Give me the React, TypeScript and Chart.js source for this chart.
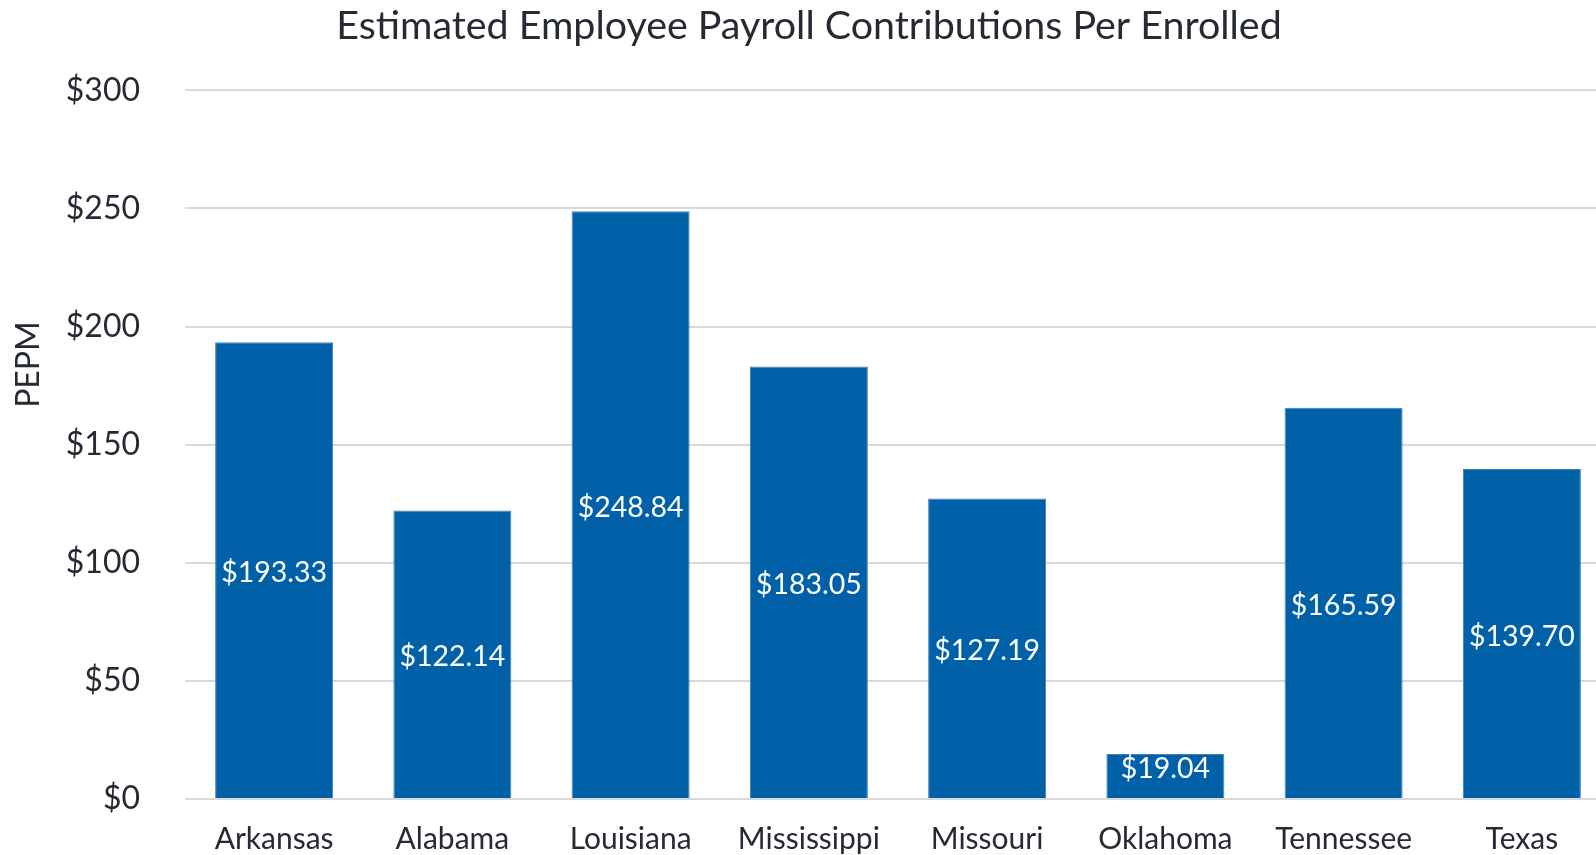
import React, { useEffect, useRef } from "react";
import { Chart, registerables } from "chart.js";

Chart.register(...registerables);

const categories = ["Arkansas", "Alabama", "Louisiana", "Mississippi", "Missouri", "Oklahoma", "Tennessee", "Texas"];
const values = [193.33, 122.14, 248.84, 183.05, 127.19, 19.04, 165.59, 139.7];
const yTicks = [0, 50, 100, 150, 200, 250, 300];
const titleText = "Estimated Employee Payroll Contributions Per Enrolled";
const yAxisTitle = "PEPM";

const FONT = "Lato, 'Open Sans', sans-serif";
const TEXT = "#262b33";
const BAR = "#0060a8";

const fmt = (v: number) => "$" + v.toFixed(2);

const barLabels = {
  id: "barLabels",
  afterDatasetsDraw(chart: any) {
    const { ctx } = chart;
    const meta = chart.getDatasetMeta(0);
    ctx.save();
    ctx.fillStyle = "#ffffff";
    ctx.font = `28.5px ${FONT}`;
    ctx.textAlign = "center";
    ctx.textBaseline = "middle";
    meta.data.forEach((el: any, i: number) => {
      const h = el.base - el.y;
      const mid = (el.y + el.base) / 2;
      const y = h < 60 ? mid - 7 : mid + 3;
      ctx.fillText(fmt(values[i]), el.x, y);
    });
    ctx.restore();
  },
};

const yTitle = {
  id: "yTitle",
  afterDraw(chart: any) {
    const { ctx, chartArea } = chart;
    ctx.save();
    ctx.fillStyle = TEXT;
    ctx.font = `32px ${FONT}`;
    ctx.textAlign = "center";
    ctx.textBaseline = "middle";
    const y = chartArea.top + (chartArea.bottom - chartArea.top) * 0.387;
    ctx.translate(29, y);
    ctx.rotate(-Math.PI / 2);
    ctx.fillText(yAxisTitle, 0, 0);
    ctx.restore();
  },
};

export default function App() {
  const ref = useRef<HTMLCanvasElement | null>(null);
  useEffect(() => {
    if (!ref.current) return;
    const chart = new Chart(ref.current, {
      type: "bar",
      data: {
        labels: categories,
        datasets: [
          {
            data: values,
            backgroundColor: BAR,
            borderColor: "#3f7fbf",
            borderWidth: 1,
            barPercentage: 0.662,
            categoryPercentage: 1,
          },
        ],
      },
      options: {
        animation: false,
        responsive: false,
        maintainAspectRatio: false,
        layout: { padding: { left: 7, right: 7, top: 3, bottom: 0 } },
        plugins: {
          legend: { display: false },
          tooltip: { enabled: false },
          title: {
            display: true,
            text: titleText,
            color: TEXT,
            font: { family: FONT, size: 39.4, weight: "normal" },
            padding: { top: 0, bottom: 40 },
          },
        },
        scales: {
          x: {
            grid: { display: false, drawTicks: false },
            border: { display: false },
            ticks: {
              color: TEXT,
              font: { family: FONT, size: 30 },
              padding: 22,
              maxRotation: 0,
              autoSkip: false,
            },
            afterFit: (s: any) => {
              s.height = 71;
            },
          },
          y: {
            min: 0,
            max: 300,
            afterBuildTicks: (s: any) => {
              s.ticks = yTicks.map((v) => ({ value: v }));
            },
            grid: { color: "#d9d9d9", lineWidth: 2, drawTicks: false },
            border: { display: false },
            ticks: {
              color: TEXT,
              font: { family: FONT, size: 32 },
              padding: 45,
              callback: (v: any) => "$" + v,
            },
            afterFit: (s: any) => {
              s.width = 178;
            },
          },
        },
      },
      plugins: [barLabels, yTitle],
    });
    return () => chart.destroy();
  }, []);
  return (
    <div style={{ position: "fixed", left: 0, top: 0, width: 1618, height: 870, background: "#fff" }}>
      <canvas ref={ref} width={1618} height={870} style={{ width: 1618, height: 870 }} />
    </div>
  );
}
